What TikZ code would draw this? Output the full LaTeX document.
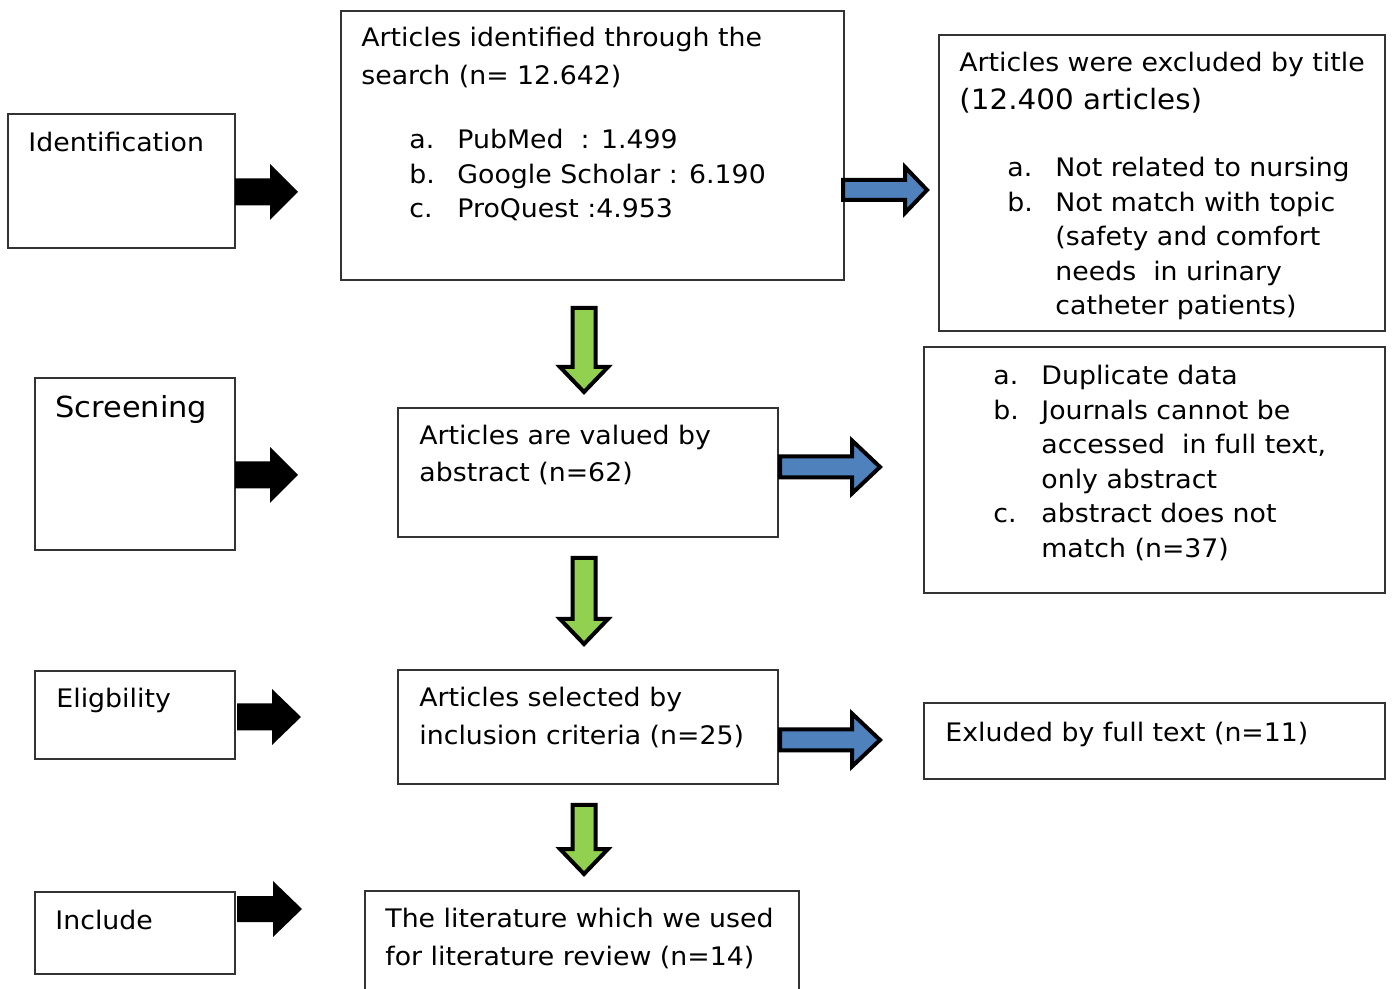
\documentclass[tikz,border=0pt]{standalone}
\usepackage{fontspec}
\setmainfont{DejaVu Sans}[FakeStretch=1.05]
\definecolor{grn}{HTML}{92D050}
\definecolor{blu}{HTML}{4F81BD}
\newcommand\bodyfs{\fontsize{12.75}{19}\selectfont}
\newcommand\listfs{\fontsize{12.75}{17.25}\selectfont}
\newcommand\itm[1]{\makebox[24pt][l]{#1}}
\newcommand\cont{\hspace*{24pt}}
\newcommand\lines[1]{\begin{tabular}[t]{@{}l@{}}#1\end{tabular}}
\tikzset{
  box/.style={draw=black!80, line width=0.75pt, inner sep=0pt},
  txt/.style={anchor=base west, inner sep=0pt, font=\bodyfs},
  lst/.style={txt, font=\listfs},
  blk/.style={fill=black},
  grnarr/.style={fill=grn, draw=black, line width=2pt, line join=miter},
  bluarr/.style={fill=blu, draw=black, line width=2pt, line join=miter},
  % #1 length, #2 shaft, #3 head width, #4 head length, #5 style
  pics/barrow/.style n args={5}{code={%
    \path[#5] (0,-#2/2) -- (#1-#4,-#2/2) -- (#1-#4,-#3/2) -- (#1,0)
      -- (#1-#4,#3/2) -- (#1-#4,#2/2) -- (0,#2/2) -- cycle;}}
}
\begin{document}
\begin{tikzpicture}[x=0.5pt, y=-0.5pt]
  \useasboundingbox (0,0) rectangle (1394,989);
  % stages
  \node[box, minimum width=113.5pt, minimum height=67pt] (ident) at (121.5,181) {};
  \node[box, minimum width=100pt, minimum height=86pt] (screen) at (135,464) {};
  \node[box, minimum width=100pt, minimum height=44pt] (elig) at (135,715) {};
  \node[box, minimum width=100pt, minimum height=41pt] (incl) at (135,933) {};
  \node[txt] (identtxt) at (28,152) {Identification};
  \node[txt, font=\fontsize{14.5}{19}\selectfont] (screentxt) at (55,418) {Screening};
  \node[txt] (eligtxt) at (56,708) {Eligbility};
  \node[txt] (incltxt) at (55,929) {Include};
  % middle column
  \node[box, minimum width=251.5pt, minimum height=134.5pt] (search) at (592.5,145.5) {};
  \node[box, minimum width=190pt, minimum height=64.5pt] (abstr) at (588,472.5) {};
  \node[box, minimum width=190pt, minimum height=57pt] (select) at (588,727) {};
  \node[box, minimum width=217pt, minimum height=54.5pt] (review) at (582,945.5) {};
  \node[txt] (searchtxt) at (361,47) {\lines{Articles identified through the\\search (n= 12.642)}};
  \node[lst] (searchlst) at (409,149) {\lines{\itm{a.}PubMed\ \ : 1.499\\
    \itm{b.}Google Scholar : 6.190\\\itm{c.}ProQuest :4.953}};
  \node[txt, font=\fontsize{12.75}{18.5}\selectfont] (abstrtxt) at (419,445) {\lines{Articles are valued by\\abstract (n=62)}};
  \node[txt] (selecttxt) at (419,707) {\lines{Articles selected by\\inclusion criteria (n=25)}};
  \node[txt] (reviewtxt) at (385,928) {\lines{The literature which we used\\for literature review (n=14)}};
  % excluded
  \node[box, minimum width=223pt, minimum height=148pt] (title) at (1162,183) {};
  \node[box, minimum width=230.5pt, minimum height=123pt] (dupl) at (1154.5,470) {};
  \node[box, minimum width=230.5pt, minimum height=38pt] (full) at (1154.5,741) {};
  \node[txt] (titletxt) at (959,72) {Articles were excluded by title};
  \node[txt, font=\fontsize{14}{19}\selectfont] (titlen) at (959,110) {(12.400 articles)};
  \node[lst] (titlelst) at (1007,177) {\lines{\itm{a.}Not related to nursing\\
    \itm{b.}Not match with topic\\\cont(safety and comfort\\
    \cont needs\ \ in urinary\\\cont catheter patients)}};
  \node[lst] (dupllst) at (993,385) {\lines{\itm{a.}Duplicate data\\
    \itm{b.}Journals cannot be\\\cont accessed\ \ in full text,\\
    \cont only abstract\\\itm{c.}abstract does not\\\cont match (n=37)}};
  \node[txt] (fulltxt) at (945,741) {Exluded by full text (n=11)};
  % arrows
  \pic at (235,192) {barrow={63}{27}{56}{28}{blk}};
  \pic at (235,475) {barrow={63}{27}{56}{28}{blk}};
  \pic at (237,717) {barrow={64}{27}{56}{29}{blk}};
  \pic at (237,909) {barrow={65}{26}{56}{29}{blk}};
  \pic[rotate=-90] at (584,308) {barrow={84}{23}{48}{25}{grnarr}};
  \pic[rotate=-90] at (584,558) {barrow={86}{23}{48}{25}{grnarr}};
  \pic[rotate=-90] at (584,805) {barrow={69}{23}{48}{25}{grnarr}};
  \pic at (843,190) {barrow={84}{20}{46}{22}{bluarr}};
  \pic at (780,467) {barrow={100}{21}{53}{28}{bluarr}};
  \pic at (780,740) {barrow={100}{21}{53}{28}{bluarr}};
\end{tikzpicture}
\end{document}
